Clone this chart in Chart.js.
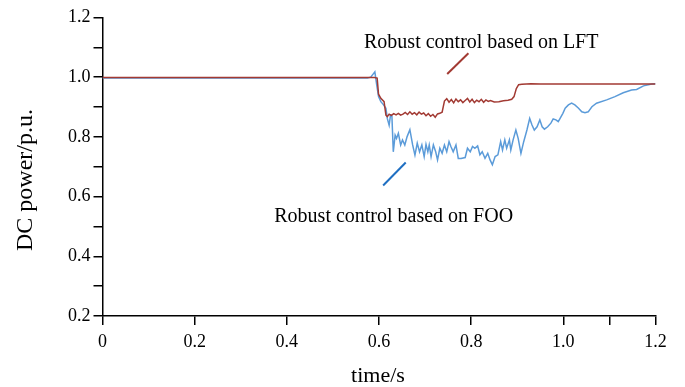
<!DOCTYPE html>
<html>
<head>
<meta charset="utf-8">
<script src="https://cdn.jsdelivr.net/npm/chart.js@4/dist/chart.umd.min.js"></script>
<style>
  html, body { margin: 0; padding: 0; background: #fff; }
  canvas { display: block; }
</style>
</head>
<body>
<canvas id="powerChart" width="685" height="387"></canvas>
<script>
// Robust control based on LFT (red trace)
const lftTime = [0, 0.2, 0.4, 0.59, 0.596, 0.599, 0.604, 0.611, 0.615, 0.618, 0.622, 0.627, 0.632, 0.637, 0.642,
  0.647, 0.652, 0.657, 0.662, 0.667, 0.672, 0.677, 0.682, 0.687, 0.692, 0.697, 0.702, 0.707, 0.712, 0.717,
  0.722, 0.727, 0.732, 0.737, 0.742, 0.747, 0.752, 0.757, 0.762, 0.767, 0.772, 0.777, 0.782, 0.787, 0.792,
  0.797, 0.802, 0.807, 0.812, 0.817, 0.822, 0.827, 0.832, 0.837, 0.842, 0.85, 0.86, 0.87, 0.88, 0.888,
  0.893, 0.898, 0.903, 0.91, 0.93, 0.95, 1.0, 1.1, 1.2];
const lftPower = [0.999, 0.999, 0.999, 0.999, 0.997, 0.943, 0.929, 0.918, 0.873, 0.868, 0.876, 0.872, 0.878, 0.874, 0.879,
  0.873, 0.876, 0.882, 0.875, 0.884, 0.876, 0.881, 0.874, 0.883, 0.876, 0.880, 0.871, 0.878, 0.869, 0.875,
  0.866, 0.877, 0.879, 0.883, 0.920, 0.928, 0.916, 0.925, 0.914, 0.927, 0.918, 0.924, 0.915, 0.922, 0.929,
  0.917, 0.926, 0.915, 0.923, 0.918, 0.926, 0.916, 0.924, 0.919, 0.922, 0.917, 0.918, 0.921, 0.923, 0.926,
  0.935, 0.962, 0.975, 0.976, 0.978, 0.977, 0.977, 0.977, 0.977];

// Robust control based on FOO (blue trace)
const fooTime = [0, 0.2, 0.4, 0.575, 0.582, 0.588, 0.591, 0.595, 0.599, 0.604, 0.609, 0.615, 0.618, 0.622, 0.625,
  0.628, 0.631, 0.635, 0.638, 0.642, 0.647, 0.651, 0.656, 0.661, 0.667, 0.673, 0.678, 0.683, 0.688, 0.693,
  0.698, 0.702, 0.706, 0.709, 0.713, 0.718, 0.723, 0.727, 0.732, 0.737, 0.742, 0.747, 0.752, 0.756, 0.761,
  0.767, 0.772, 0.778, 0.787, 0.792, 0.798, 0.803, 0.808, 0.814, 0.819, 0.824, 0.830, 0.836, 0.841, 0.846,
  0.852, 0.858, 0.864, 0.868, 0.873, 0.877, 0.883, 0.886, 0.891, 0.897, 0.902, 0.908, 0.914, 0.921, 0.927,
  0.932, 0.937, 0.943, 0.949, 0.954, 0.959, 0.966, 0.973, 0.978, 0.984, 0.989, 0.993, 0.999, 1.004, 1.011,
  1.018, 1.025, 1.033, 1.040, 1.047, 1.054, 1.062, 1.072, 1.094, 1.112, 1.130, 1.148, 1.159, 1.174, 1.192, 1.2];
const fooPower = [0.997, 0.997, 0.997, 0.997, 1.0, 1.012, 1.018, 0.974, 0.935, 0.918, 0.909, 0.896, 0.862, 0.839, 0.873,
  0.870, 0.750, 0.806, 0.795, 0.812, 0.773, 0.790, 0.773, 0.801, 0.824, 0.773, 0.739, 0.779, 0.750, 0.773,
  0.734, 0.775, 0.750, 0.773, 0.734, 0.773, 0.750, 0.723, 0.762, 0.745, 0.773, 0.750, 0.784, 0.768, 0.750,
  0.773, 0.728, 0.728, 0.731, 0.762, 0.750, 0.768, 0.762, 0.770, 0.740, 0.750, 0.728, 0.745, 0.723, 0.707,
  0.734, 0.740, 0.784, 0.756, 0.790, 0.762, 0.790, 0.756, 0.790, 0.823, 0.795, 0.745, 0.784, 0.823, 0.862,
  0.840, 0.823, 0.834, 0.857, 0.834, 0.826, 0.834, 0.846, 0.860, 0.857, 0.851, 0.862, 0.879, 0.896, 0.907,
  0.913, 0.907, 0.896, 0.884, 0.881, 0.884, 0.901, 0.913, 0.924, 0.935, 0.948, 0.957, 0.959, 0.971, 0.977, 0.978];

// axis ticks
const xTicks = [0, 0.2, 0.4, 0.6, 0.8, 1.0, 1.1, 1.2];
const yTicks = [0.2, 0.3, 0.4, 0.5, 0.6, 0.7, 0.8, 0.9, 1.0, 1.1, 1.2];

const serif = "'Liberation Serif', 'Times New Roman', serif";

// callouts: text position and leader line, in data units
const callouts = [
  { text: 'Robust control based on LFT', x: 0.5675, y: 1.1146, from: [0.748, 1.011], to: [0.794, 1.080], color: '#a23a33' },
  { text: 'Robust control based on FOO', x: 0.3727, y: 0.5327, from: [0.609, 0.637], to: [0.658, 0.714], color: '#1f6fc2' }
];

function toPoints(xs, ys) {
  return xs.map((x, i) => ({ x: x, y: ys[i] }));
}

const annotatePlugin = {
  id: 'annotate',
  afterDraw(chart) {
    const ctx = chart.ctx;
    const xs = chart.scales.x, ys = chart.scales.y;
    ctx.save();
    callouts.forEach(c => {
      ctx.strokeStyle = c.color;
      ctx.lineWidth = 2;
      ctx.beginPath();
      ctx.moveTo(xs.getPixelForValue(c.from[0]), ys.getPixelForValue(c.from[1]));
      ctx.lineTo(xs.getPixelForValue(c.to[0]), ys.getPixelForValue(c.to[1]));
      ctx.stroke();
      ctx.fillStyle = '#000';
      ctx.font = '20px ' + serif;
      ctx.textAlign = 'left';
      ctx.textBaseline = 'middle';
      ctx.fillText(c.text, xs.getPixelForValue(c.x), ys.getPixelForValue(c.y));
    });

    // axis titles
    ctx.fillStyle = '#000';
    ctx.font = '22px ' + serif;
    ctx.textAlign = 'center';
    ctx.textBaseline = 'alphabetic';
    ctx.fillText('time/s', 378, 382);

    ctx.translate(32, 180);
    ctx.rotate(-Math.PI / 2);
    ctx.font = '24px ' + serif;
    ctx.fillText('DC power/p.u.', 0, 0);
    ctx.restore();
  }
};

new Chart(document.getElementById('powerChart'), {
  type: 'scatter',
  data: {
    datasets: [
      {
        label: 'Robust control based on LFT',
        data: toPoints(lftTime, lftPower),
        showLine: true,
        borderColor: '#a23a33',
        borderWidth: 1.5,
        pointRadius: 0,
        tension: 0
      },
      {
        label: 'Robust control based on FOO',
        data: toPoints(fooTime, fooPower),
        showLine: true,
        borderColor: '#5b9bd9',
        borderWidth: 1.5,
        pointRadius: 0,
        tension: 0
      }
    ]
  },
  options: {
    responsive: false,
    animation: false,
    devicePixelRatio: 1,
    layout: { padding: { top: 17.5, right: 29.5, left: 0, bottom: 0 } },
    plugins: {
      legend: { display: false },
      tooltip: { enabled: false }
    },
    scales: {
      x: {
        type: 'linear',
        min: 0,
        max: 1.2,
        afterFit: s => { s.height = 71; },
        afterBuildTicks: s => { s.ticks = xTicks.map(v => ({ value: v })); },
        ticks: {
          color: '#000',
          font: { family: serif, size: 18 },
          padding: 6,
          maxRotation: 0,
          autoSkip: false,
          callback: v => {
            if (Math.abs(v - 1.1) < 1e-6) return '';
            return v === 0 ? '0' : v.toFixed(1);
          }
        },
        grid: { drawOnChartArea: false, color: '#000', lineWidth: 1.5, tickLength: 9 },
        border: { color: '#000', width: 1.5 }
      },
      y: {
        type: 'linear',
        min: 0.2,
        max: 1.2,
        afterFit: s => { s.width = 102.5; },
        afterBuildTicks: s => { s.ticks = yTicks.map(v => ({ value: v })); },
        ticks: {
          color: '#000',
          font: { family: serif, size: 18 },
          padding: 3,
          autoSkip: false,
          callback: v => (Math.round(v * 10) % 2 === 0 ? v.toFixed(1) : '')
        },
        grid: { drawOnChartArea: false, color: '#000', lineWidth: 1.5, tickLength: 9 },
        border: { color: '#000', width: 1.5 }
      }
    }
  },
  plugins: [annotatePlugin]
});
</script>
</body>
</html>
